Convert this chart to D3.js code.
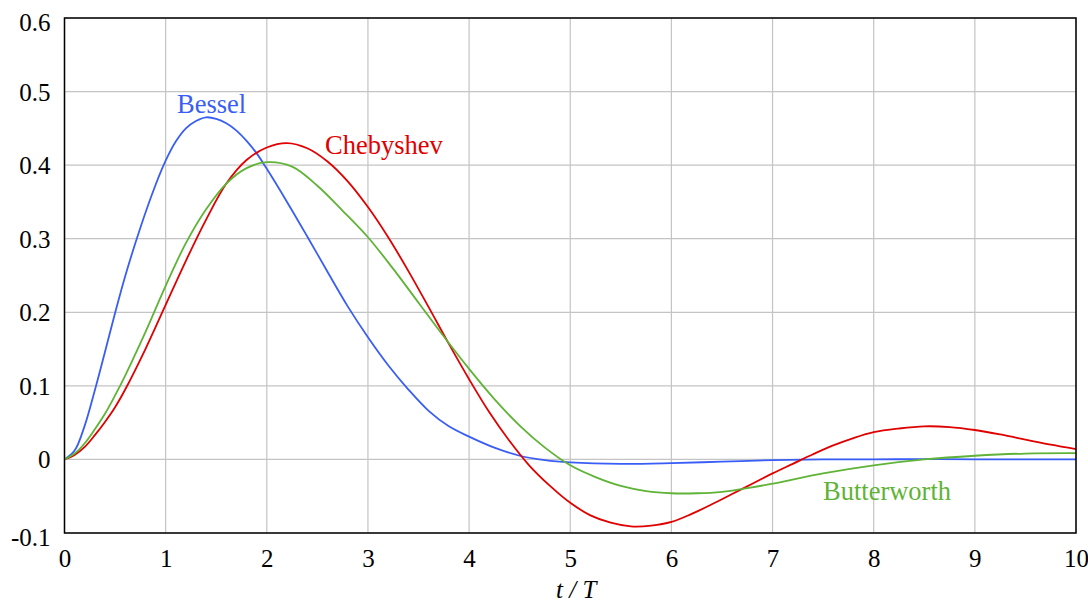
<!DOCTYPE html>
<html>
<head>
<meta charset="utf-8">
<script src="https://cdn.jsdelivr.net/npm/d3@7"></script>
<style>
	body { margin: 0; background: #fff; }
	svg text { font-family: "Times New Roman", Times, "Liberation Serif", Tinos, "DejaVu Serif", serif; }
</style>
</head>
<body>
<svg id="chart" width="1088" height="602"></svg>
<script>
// data (t/T, response)
const besselT = [0, 0.1, 0.2, 0.3, 0.4, 0.5, 0.6, 0.75, 0.9, 1.0, 1.1, 1.2, 1.3, 1.4, 1.5, 1.6, 1.7, 1.8, 1.9, 2.0, 2.2, 2.4, 2.6, 2.8, 3.0, 3.2, 3.4, 3.6, 3.8, 4.0, 4.25, 4.5, 4.75, 5.0, 5.5, 6.0, 6.5, 7.0, 7.5, 8.0, 8.5, 9.0, 10];
const besselV = [0, 0.012, 0.046, 0.094, 0.146, 0.199, 0.249, 0.315, 0.373, 0.406, 0.432, 0.450, 0.460, 0.465, 0.463, 0.457, 0.447, 0.433, 0.416, 0.395, 0.350, 0.303, 0.255, 0.208, 0.166, 0.128, 0.095, 0.066, 0.045, 0.031, 0.016, 0.005, -0.001, -0.004, -0.006, -0.005, -0.003, -0.001, 0, 0, 0.0005, 0, 0];

const chebyT = [0, 0.1, 0.2, 0.3, 0.4, 0.5, 0.6, 0.8, 1.0, 1.2, 1.4, 1.6, 1.8, 2.0, 2.2, 2.4, 2.6, 2.8, 3.0, 3.2, 3.4, 3.6, 3.8, 4.0, 4.2, 4.4, 4.6, 4.8, 5.0, 5.2, 5.4, 5.6, 5.8, 6.0, 6.2, 6.4, 6.6, 6.8, 7.0, 7.2, 7.4, 7.6, 7.8, 8.0, 8.25, 8.5, 8.75, 9.0, 9.25, 9.5, 9.75, 10];
const chebyV = [0, 0.006, 0.017, 0.033, 0.051, 0.071, 0.095, 0.150, 0.210, 0.270, 0.326, 0.375, 0.407, 0.424, 0.430, 0.423, 0.405, 0.378, 0.343, 0.302, 0.256, 0.207, 0.157, 0.109, 0.064, 0.025, -0.009, -0.036, -0.059, -0.076, -0.086, -0.091, -0.090, -0.085, -0.074, -0.061, -0.047, -0.033, -0.019, -0.006, 0.007, 0.019, 0.029, 0.037, 0.042, 0.045, 0.044, 0.040, 0.034, 0.027, 0.020, 0.014];

const buttT = [0, 0.1, 0.2, 0.3, 0.4, 0.5, 0.6, 0.8, 1.0, 1.2, 1.4, 1.6, 1.8, 2.0, 2.25, 2.5, 2.75, 3.0, 3.25, 3.5, 3.75, 4.0, 4.25, 4.5, 4.75, 5.0, 5.25, 5.5, 5.75, 6.0, 6.25, 6.5, 6.75, 7.0, 7.5, 8.0, 8.5, 9.0, 9.5, 10];
const buttV = [0, 0.008, 0.022, 0.041, 0.062, 0.087, 0.114, 0.173, 0.236, 0.294, 0.340, 0.375, 0.396, 0.404, 0.398, 0.372, 0.338, 0.302, 0.259, 0.213, 0.167, 0.123, 0.082, 0.046, 0.016, -0.008, -0.024, -0.036, -0.043, -0.046, -0.046, -0.044, -0.039, -0.033, -0.019, -0.008, 0.000, 0.005, 0.008, 0.0085];

const xTicks = [0, 1, 2, 3, 4, 5, 6, 7, 8, 9, 10];
const yTicks = [-0.1, 0, 0.1, 0.2, 0.3, 0.4, 0.5, 0.6];

const series = [
	{ name: "Bessel", t: besselT, v: besselV, color: "#3a5ef5", lx: 177, ly: 113 },
	{ name: "Chebyshev", t: chebyT, v: chebyV, color: "#e00000", lx: 325, ly: 154 },
	{ name: "Butterworth", t: buttT, v: buttV, color: "#5fb336", lx: 823, ly: 500 }
];

const margin = { top: 18, right: 12, bottom: 69, left: 64.5 };
const width = 1088 - margin.left - margin.right;
const height = 602 - margin.top - margin.bottom;

const svg = d3.select("#chart");
const g = svg.append("g").attr("transform", `translate(${margin.left},${margin.top})`);

const xScale = d3.scaleLinear().domain([0, 10]).range([0, width]);
const yScale = d3.scaleLinear().domain([-0.1, 0.6]).range([height, 0]);

// grid
g.append("g")
	.selectAll("line")
	.data(xTicks)
	.join("line")
		.attr("x1", d => xScale(d)).attr("x2", d => xScale(d))
		.attr("y1", 0).attr("y2", height)
		.attr("stroke", "#c4c4c4").attr("stroke-width", 1.2);
g.append("g")
	.selectAll("line")
	.data(yTicks)
	.join("line")
		.attr("x1", 0).attr("x2", width)
		.attr("y1", d => yScale(d)).attr("y2", d => yScale(d))
		.attr("stroke", "#c4c4c4").attr("stroke-width", 1.2);

// axes
const xAxis = g.append("g")
	.attr("transform", `translate(0,${height})`)
	.call(d3.axisBottom(xScale).tickValues(xTicks).tickSize(0).tickPadding(16).tickFormat(d3.format("d")));
const yAxis = g.append("g")
	.call(d3.axisLeft(yScale).tickValues(yTicks).tickSize(0).tickPadding(14)
		.tickFormat(d => d === 0 ? "0" : d3.format(".1f")(d).replace("\u2212", "-")));

[xAxis, yAxis].forEach(ax => {
	ax.attr("font-family", null);
	ax.select(".domain").remove();
	ax.selectAll("text").attr("font-size", 25).attr("fill", "#000");
});
// end labels sit a little lower in the original
yAxis.selectAll(".tick text").attr("dy", d => (d === 0.6 || d === -0.1) ? "0.5em" : "0.34em");

// lines
const line = d3.line()
	.x(d => xScale(d[0]))
	.y(d => yScale(d[1]))
	.curve(d3.curveCatmullRom.alpha(0.5));

series.forEach(s => {
	g.append("path")
		.datum(s.t.map((t, i) => [t, s.v[i]]))
		.attr("fill", "none")
		.attr("stroke", s.color)
		.attr("stroke-width", 1.8)
		.attr("d", line);
	svg.append("text")
		.attr("x", s.lx).attr("y", s.ly)
		.attr("font-size", 26.5)
		.attr("fill", s.color)
		.text(s.name);
});

// frame
g.append("rect")
	.attr("x", 0).attr("y", 0)
	.attr("width", width).attr("height", height)
	.attr("fill", "none").attr("stroke", "#000").attr("stroke-width", 1.5);

// axis title
svg.append("text")
	.attr("x", margin.left + width / 2 + 6)
	.attr("y", 598)
	.attr("text-anchor", "middle")
	.attr("font-size", 25)
	.attr("font-style", "italic")
	.text("t / T");
</script>
</body>
</html>
